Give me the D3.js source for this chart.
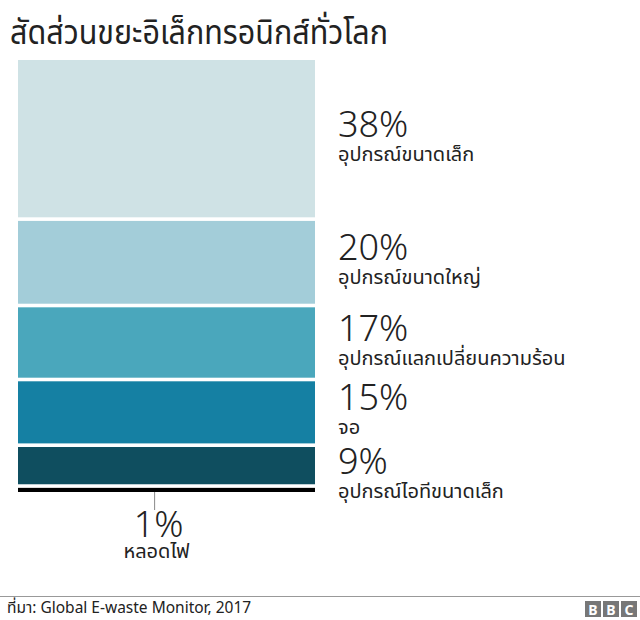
<!DOCTYPE html>
<html>
<head>
<meta charset="utf-8">
<script src="https://cdn.jsdelivr.net/npm/d3@7"></script>
<style>
  body { margin: 0; background: #fff; }
  svg { display: block; font-family: "Noto Sans", "Noto Sans Thai", sans-serif; }
</style>
</head>
<body>
<svg id="chart" width="640" height="620"></svg>
<script>
const titleText = "สัดส่วนขยะอิเล็กทรอนิกส์ทั่วโลก";
const categories = ["อุปกรณ์ขนาดเล็ก", "อุปกรณ์ขนาดใหญ่", "อุปกรณ์แลกเปลี่ยนความร้อน", "จอ", "อุปกรณ์ไอทีขนาดเล็ก", "หลอดไฟ"];
const values = [38, 20, 17, 15, 9, 1];
const colors = ["#cfe2e5", "#a3cdd9", "#4aa7bc", "#1580a3", "#0f4e5f", "#000000"];
const sourceText = "ที่มา: Global E-waste Monitor, 2017";

const svg = d3.select("#chart");
const W = 640;
const barX0 = 18, barX1 = 315;
const barTop = 60, barBottom = 492, gap = 3.6;
const n = values.length;

const x = d3.scaleLinear().domain([0, 1]).range([barX0, barX1]);
const y = d3.scaleLinear().domain([0, d3.sum(values)]).range([barTop, barBottom - gap * (n - 1)]);

let cum = 0;
const segs = values.map((v, i) => {
  const s = { v, i, cat: categories[i], color: colors[i], y0: y(cum) + i * gap, y1: y(cum + v) + i * gap };
  cum += v;
  return s;
});

// Title
svg.append("text")
  .attr("x", 10).attr("y", 44)
  .attr("font-size", 34)
  .attr("textLength", 378)
  .attr("lengthAdjust", "spacingAndGlyphs")
  .attr("fill", "#222")
  .text(titleText);

// Bars
svg.append("g").selectAll("rect").data(segs).join("rect")
  .attr("x", x(0))
  .attr("y", d => d.y0)
  .attr("width", x(1) - x(0))
  .attr("height", d => d.y1 - d.y0)
  .attr("fill", d => d.color);

// Right labels (all but last)
let prev = -Infinity;
const lab = svg.append("g");
segs.slice(0, n - 1).forEach(d => {
  const c = (d.y0 + d.y1) / 2;
  const b = Math.max(c - 2, prev + 64);
  prev = b;
  lab.append("text").attr("x", 338).attr("y", b)
    .attr("font-size", 36).attr("font-weight", 300).attr("fill", "#222").text(d.v + "%");
  lab.append("text").attr("x", 338).attr("y", b + 24)
    .attr("font-size", 20).attr("fill", "#222").text(d.cat);
});

// Last (1%) annotation below bar
const last = segs[n - 1];
const cx = x(0.46);
svg.append("line")
  .attr("x1", cx).attr("x2", cx)
  .attr("y1", last.y1).attr("y2", last.y1 + 18)
  .attr("stroke", "#888").attr("stroke-width", 1);
svg.append("text").attr("x", cx + 4).attr("y", 537).attr("text-anchor", "middle")
  .attr("font-size", 36).attr("font-weight", 300).attr("fill", "#222").text(last.v + "%");
svg.append("text").attr("x", cx + 2).attr("y", 558).attr("text-anchor", "middle")
  .attr("font-size", 20).attr("fill", "#222").text(last.cat);

// Footer
svg.append("line").attr("x1", 0).attr("x2", W).attr("y1", 596.5).attr("y2", 596.5)
  .attr("stroke", "#999").attr("stroke-width", 1);
svg.append("text").attr("x", 7).attr("y", 613)
  .attr("font-size", 15.5).attr("fill", "#222").text(sourceText);

const logo = svg.append("g");
["B", "B", "C"].forEach((ch, i) => {
  const bx = 585 + i * 18;
  logo.append("rect").attr("x", bx).attr("y", 601).attr("width", 16).attr("height", 16).attr("fill", "#777");
  logo.append("text").attr("x", bx + 8).attr("y", 614.5).attr("text-anchor", "middle")
    .attr("font-size", 14).attr("font-weight", "bold").attr("fill", "#fff").text(ch);
});
</script>
</body>
</html>
